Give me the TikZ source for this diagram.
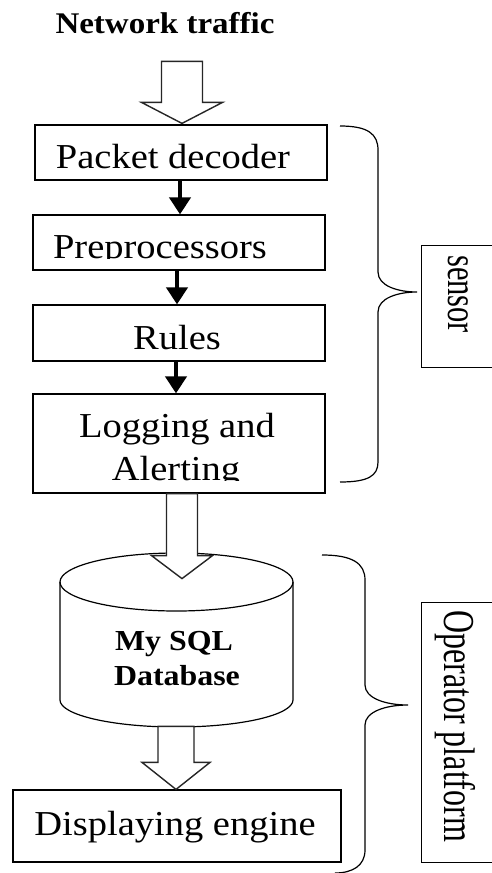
\documentclass[tikz,border=0pt]{standalone}
\usepackage{fontspec}
\setmainfont[FakeStretch=1.1]{Liberation Serif}
\newfontfamily\rotfont{Liberation Serif}
\usetikzlibrary{arrows.meta,calc}
\tikzset{
  box/.style={draw, line width=1.2pt, inner sep=0pt, fill=white},
  boxtext/.style={font=\fontsize{35}{40}\selectfont, inner sep=0pt, anchor=base},
  boldtext/.style={font=\bfseries\fontsize{30}{34}\selectfont, inner sep=0pt, anchor=base},
  dbtext/.style={font=\bfseries\fontsize{29}{33}\selectfont, inner sep=0pt, anchor=base},
  blk/.style={line width=4pt, -{Triangle[width=21pt,length=17pt]}},
  hollow/.style={draw=black!85, line width=1.4pt, fill=white, line join=miter},
  brace/.style={draw, line width=1.2pt},
  cyl/.style={draw, line width=1.2pt},
}
% #1 tip, #2 shaft half width, #3 head half width, #4 head length, #5 total length
\newcommand\myhollow[5]{%
  \path[hollow] (#1) -- ++(#3,-#4) -- ++({-#3+#2},0) -- ++(0,{-(#5-#4)})
    -- ++({-2*#2},0) -- ++(0,{#5-#4}) -- ++({-#3+#2},0) -- cycle;}
\begin{document}
\begin{tikzpicture}[x=1pt,y=-1pt]
\useasboundingbox (0,0) rectangle (492,873);
\clip (0,0) rectangle (492,873);

% title
\node[boldtext] (title) at (165,33) {Network traffic};

% sensor boxes
\node[box, minimum width=292pt, minimum height=55pt] (pd) at (181,152.5) {};
\node[boxtext] (pdtext) at (173,168) {Packet decoder};

\node[box, minimum width=292pt, minimum height=55pt] (pre) at (179,242.5) {};
\begin{scope}
  \clip (33,200) rectangle (325,258.5);
  \node[boxtext] (pretext) at (160,258) {Preprocessors};
\end{scope}

\node[box, minimum width=292pt, minimum height=56pt] (rules) at (179,333) {};
\node[boxtext] (rulestext) at (177,349) {Rules};

\node[box, minimum width=292pt, minimum height=99pt] (log) at (179,443.5) {};
\node[boxtext] (logtext1) at (177,437) {Logging and};
\begin{scope}
  \clip (33,440) rectangle (325,480.5);
  \node[boxtext] (logtext2) at (176,480) {Alerting};
\end{scope}

% black arrows
\draw[blk] ([xshift=-1pt]pd.south) -- ([xshift=-1pt]pd.south |- pre.north);
\draw[blk] ([xshift=-2pt]pre.south) -- ([xshift=-2pt]pre.south |- rules.north);
\draw[blk] ([xshift=-3pt]rules.south) -- ([xshift=-3pt]rules.south |- log.north);

% hollow arrow into packet decoder
\coordinate (a1tip) at ([xshift=1pt,yshift=1pt]pd.north);
\myhollow{a1tip}{20.5}{40.5}{21}{62}

% database cylinder
\path[cyl, fill=white] (60,582) -- (60,700)
  arc[start angle=180, end angle=0, x radius=116.5, y radius=27] -- (293,582);
\draw[cyl] (176.5,582) ellipse [x radius=116.5, y radius=29];
\node[inner sep=0pt, minimum width=233pt, minimum height=175pt] (db) at (176.5,640) {};
\node[dbtext] (dbtext1) at (174,650) {My SQL};
\node[dbtext] (dbtext2) at (177,685) {Database};

% hollow arrow from logging to database
\coordinate (a2tip) at ($(log.south)+(3,85)$);
\myhollow{a2tip}{15.5}{30.5}{23}{85}

% displaying engine
\node[box, minimum width=328pt, minimum height=72pt] (disp) at (177,826) {};
\node[boxtext] (disptext) at (175,835) {Displaying engine};

% hollow arrow from database to displaying engine
\coordinate (a3tip) at ([xshift=-1pt]disp.north);
\myhollow{a3tip}{18}{34}{27}{63}

% sensor brace and box
\draw[brace] (340,126) .. controls (368,126) and (378,134) .. (378,150)
  -- (378,272) .. controls (378,286) and (398,292) .. (417,292)
  .. controls (398,292) and (378,298) .. (378,312)
  -- (378,462) .. controls (378,476) and (368,482) .. (340,482);
\node[box, anchor=north west, minimum width=80pt, minimum height=122pt] (sensorbox) at (421,245) {};
\node[rotate=-90, anchor=base west, inner sep=0pt,
      font=\rotfont\fontsize{30.5}{32}\selectfont] (sensortext) at (448,255)
      {\scalebox{1}[1.38]{sensor}};

% operator platform brace and box
\draw[brace] (322,555) .. controls (352,555) and (365,563) .. (365,580)
  -- (365,685) .. controls (365,698) and (385,705) .. (408,705)
  .. controls (385,705) and (365,712) .. (365,725)
  -- (365,850) .. controls (365,866) and (352,873) .. (335,873);
\node[box, anchor=north west, minimum width=80pt, minimum height=260pt] (opbox) at (421,602) {};
\node[rotate=-90, anchor=base west, inner sep=0pt,
      font=\rotfont\fontsize{32}{34}\selectfont] (optext) at (444,610)
      {\scalebox{1}[1.38]{Operator platform}};
\end{tikzpicture}
\end{document}
